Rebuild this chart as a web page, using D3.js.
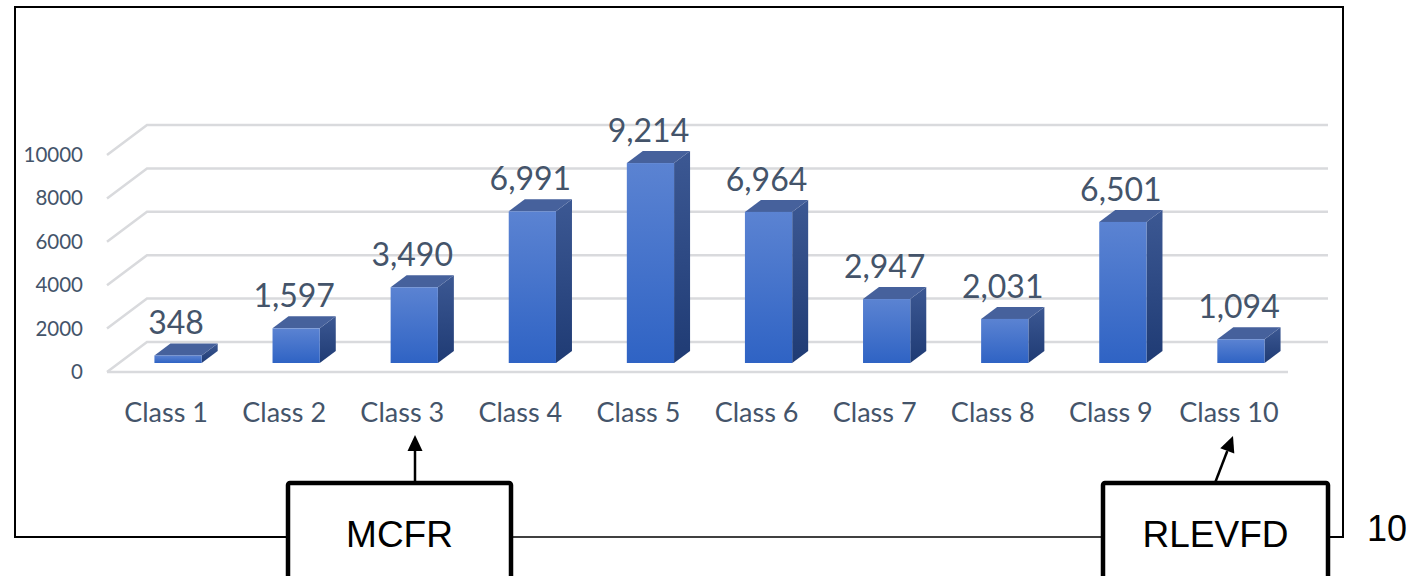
<!DOCTYPE html>
<html>
<head>
<meta charset="utf-8">
<script src="https://cdn.jsdelivr.net/npm/d3@7"></script>
<style>
  body { margin: 0; background: #ffffff; }
  svg { display: block; }
</style>
</head>
<body>
<div id="my_dataviz"></div>
<script>
// chart data
var categories = ["Class 1", "Class 2", "Class 3", "Class 4", "Class 5", "Class 6", "Class 7", "Class 8", "Class 9", "Class 10"];
var values = [348, 1597, 3490, 6991, 9214, 6964, 2947, 2031, 6501, 1094];
var tickValues = [0, 2000, 4000, 6000, 8000, 10000];
var boxLabels = ["MCFR", "RLEVFD"];
var figureNumber = "10";

/*
------------------------
METHOD: set the dimensions and the 3d floor
------------------------
*/
var width = 1421, height = 576;
var floor = { left: 107, right: 1288, front: 372 };
var depth = { dx: 40, dy: -30 };   // full depth of the floor
var barDepth = [0.3, 0.7];          // bars sit in the middle of the floor
var labelColor = "#44546a";

var svg = d3.select("#my_dataviz")
  .append("svg")
  .attr("width", width)
  .attr("height", height);

var x = d3.scaleBand()
  .domain(categories)
  .range([floor.left, floor.right]);

var y = d3.scaleLinear()
  .domain([0, 10000])
  .range([floor.front, 155]);

var defs = svg.append("defs");
function addGradient(id, top, bottom) {
  var g = defs.append("linearGradient").attr("id", id)
    .attr("x1", 0).attr("y1", 0).attr("x2", 0).attr("y2", 1);
  g.append("stop").attr("offset", "0%").attr("stop-color", top);
  g.append("stop").attr("offset", "100%").attr("stop-color", bottom);
}
addGradient("frontGrad", "#5b83d2", "#2f63c4");
addGradient("sideGrad", "#3c5893", "#1f3b74");

/*
------------------------
METHOD: gridlines (side wall diagonal + back wall line)
------------------------
*/
var backRight = floor.right + depth.dx;
tickValues.forEach(function(t) {
  var yf = y(t);
  svg.append("path")
    .attr("d", "M" + floor.left + "," + yf +
      "L" + (floor.left + depth.dx) + "," + (yf + depth.dy) +
      "L" + backRight + "," + (yf + depth.dy))
    .attr("fill", "none")
    .attr("stroke", "#d9dadd")
    .attr("stroke-width", 2.5);
});
// front edge of the floor
svg.append("line")
  .attr("x1", floor.left).attr("x2", floor.right)
  .attr("y1", y(0)).attr("y2", y(0))
  .attr("stroke", "#d9dadd")
  .attr("stroke-width", 2.5);

// y axis labels
var yAxis = svg.append("g")
  .attr("transform", "translate(" + 88 + ",0)")
  .call(d3.axisLeft(y).tickValues(tickValues).tickSize(0).tickPadding(5).tickFormat(d3.format("d")));
yAxis.select(".domain").remove();
yAxis.selectAll("text")
  .style("font-family", "Lato, 'Open Sans', sans-serif")
  .style("font-size", "20.5px")
  .attr("fill", labelColor);

/*
------------------------
METHOD: draw the 3d bars (front, side, top)
------------------------
*/
var bw = x.bandwidth() * 0.4;
var d0x = depth.dx * barDepth[0], d0y = depth.dy * barDepth[0];
var ddx = depth.dx * (barDepth[1] - barDepth[0]), ddy = depth.dy * (barDepth[1] - barDepth[0]);

var bars = svg.selectAll(".bar")
  .data(categories.map(function(c, i) { return { cat: c, value: values[i] }; }))
  .enter()
  .append("g")
  .attr("class", "bar");

function frontLeft(d) { return x(d.cat) + x.bandwidth() / 2 - bw / 2 + d0x; }
function frontTop(d) { return y(d.value) + d0y; }
function frontBottom() { return y(0) + d0y; }

bars.append("path")
  .attr("d", function(d) {
    var l = frontLeft(d) + bw, t = frontTop(d), b = frontBottom();
    return "M" + l + "," + t + "L" + (l + ddx) + "," + (t + ddy) +
      "L" + (l + ddx) + "," + (b + ddy) + "L" + l + "," + b + "Z";
  })
  .attr("fill", "url(#sideGrad)");

bars.append("path")
  .attr("d", function(d) {
    var l = frontLeft(d), t = frontTop(d);
    return "M" + l + "," + t + "L" + (l + ddx) + "," + (t + ddy) +
      "L" + (l + bw + ddx) + "," + (t + ddy) + "L" + (l + bw) + "," + t + "Z";
  })
  .attr("fill", "#46619c");

bars.append("rect")
  .attr("x", frontLeft)
  .attr("y", frontTop)
  .attr("width", bw)
  .attr("height", function(d) { return frontBottom() - frontTop(d); })
  .attr("fill", "url(#frontGrad)");

// value labels
bars.append("text")
  .attr("x", function(d) { return frontLeft(d) + bw / 2 - 2; })
  .attr("y", function(d) { return frontTop(d) - 21; })
  .attr("text-anchor", "middle")
  .style("font-family", "Lato, 'Open Sans', sans-serif")
  .style("font-size", "32px")
  .attr("fill", labelColor)
  .text(function(d) { return d3.format(",")(d.value); });

// category labels
var xAxis = svg.append("g")
  .attr("transform", "translate(0," + 422 + ")")
  .call(d3.axisBottom(x).tickSize(0).tickPadding(0));
xAxis.select(".domain").remove();
xAxis.selectAll("text")
  .attr("dy", 0)
  .attr("y", 0)
  .style("font-family", "Lato, 'Open Sans', sans-serif")
  .style("font-size", "27px")
  .attr("fill", labelColor);

/*
------------------------
METHOD: surrounding diagram frame, boxes and arrows
------------------------
*/
var frame = svg.append("g").attr("fill", "none").attr("stroke", "#000");
frame.append("path")
  .attr("d", "M288,537L15,537L15,7L1343,7L1343,537L1328,537")
  .attr("stroke-width", 2);
frame.append("line")
  .attr("x1", 511).attr("x2", 1102).attr("y1", 537).attr("y2", 537)
  .attr("stroke-width", 1.5);

var boxes = [
  { label: boxLabels[0], x0: 288, x1: 511, arrowFrom: [415, 482], arrowTo: [415, 435] },
  { label: boxLabels[1], x0: 1103, x1: 1328, arrowFrom: [1215, 483], arrowTo: [1233, 436] }
];

boxes.forEach(function(b) {
  svg.append("rect")
    .attr("x", b.x0).attr("y", 483)
    .attr("width", b.x1 - b.x0).attr("height", 110)
    .attr("rx", 2)
    .attr("fill", "#fff")
    .attr("stroke", "#000")
    .attr("stroke-width", 4.5);
  svg.append("text")
    .attr("x", (b.x0 + b.x1) / 2)
    .attr("y", 547)
    .attr("text-anchor", "middle")
    .style("font-family", "'Liberation Sans', Arial, sans-serif")
    .style("font-size", "37px")
    .attr("fill", "#000")
    .text(b.label);

  // arrow: shaft + head
  var ax = b.arrowTo[0] - b.arrowFrom[0], ay = b.arrowTo[1] - b.arrowFrom[1];
  var len = Math.sqrt(ax * ax + ay * ay);
  var ux = ax / len, uy = ay / len;
  var headL = 16, headW = 7.5;
  var bx = b.arrowTo[0] - ux * headL, by = b.arrowTo[1] - uy * headL;
  svg.append("line")
    .attr("x1", b.arrowFrom[0]).attr("y1", b.arrowFrom[1])
    .attr("x2", bx).attr("y2", by)
    .attr("stroke", "#000").attr("stroke-width", 2.5);
  svg.append("path")
    .attr("d", "M" + b.arrowTo[0] + "," + b.arrowTo[1] +
      "L" + (bx - uy * headW) + "," + (by + ux * headW) +
      "L" + (bx + uy * headW) + "," + (by - ux * headW) + "Z")
    .attr("fill", "#000");
});

svg.append("text")
  .attr("x", 1367)
  .attr("y", 541)
  .style("font-family", "'Liberation Sans', Arial, sans-serif")
  .style("font-size", "36px")
  .attr("fill", "#000")
  .text(figureNumber);
</script>
</body>
</html>
